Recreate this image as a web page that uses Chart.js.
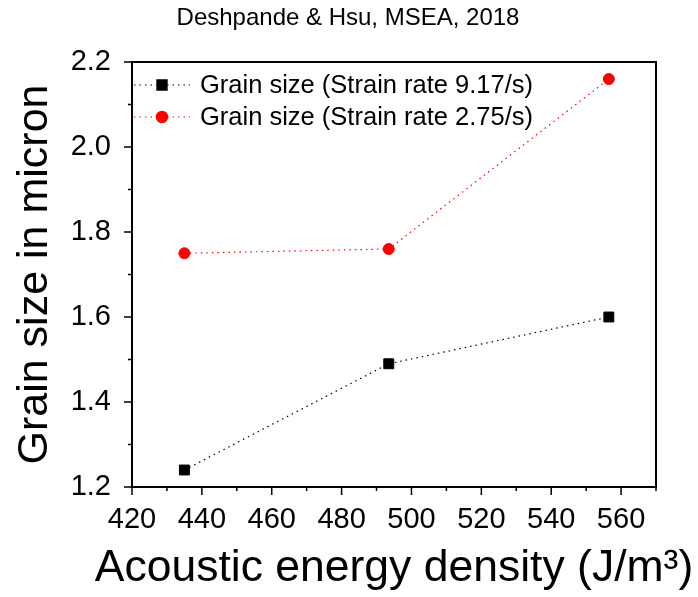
<!DOCTYPE html>
<html>
<head>
<meta charset="utf-8">
<script src="https://cdn.jsdelivr.net/npm/chart.js@4/dist/chart.umd.min.js"></script>
<style>
  html, body { margin: 0; padding: 0; background: #fff; }
  #wrap { width: 698px; height: 597px; }
</style>
</head>
<body>
<div id="wrap"><canvas id="c" width="698" height="597"></canvas></div>
<script>
// Acoustic energy density (J/m^3) for each processing condition
const energyDensity = [435, 493.5, 556.5];
// Grain size (micron) at the two strain rates
const grainRate917 = [1.24, 1.49, 1.60];
const grainRate275 = [1.75, 1.76, 2.16];
const seriesLabels = ['Grain size (Strain rate 9.17/s)', 'Grain size (Strain rate 2.75/s)'];
const chartTitle = 'Deshpande & Hsu, MSEA, 2018';
const xTitle = 'Acoustic energy density (J/m\u00B3)';
const yTitle = 'Grain size in micron';

const FONT = "'Liberation Sans', Arial, sans-serif";

function toPoints(xs, ys) {
  return xs.map((x, i) => ({ x: x, y: ys[i] }));
}

// Frame, minor/major ticks, legend, x-axis title and heading drawn over the plot
const decorations = {
  id: 'decorations',
  afterDraw(chart) {
    const ctx = chart.ctx;
    const a = chart.chartArea;
    const xs = chart.scales.x, ys = chart.scales.y;
    ctx.save();
    // top and right frame lines
    ctx.strokeStyle = '#000';
    ctx.lineWidth = 2;
    ctx.beginPath();
    ctx.moveTo(a.left, a.top);
    ctx.lineTo(a.right, a.top);
    ctx.lineTo(a.right, a.bottom);
    ctx.stroke();

    // outward ticks
    ctx.lineWidth = 1.5;
    ctx.beginPath();
    xs.ticks.forEach(t => {
      const px = xs.getPixelForValue(t.value);
      const major = Math.round(t.value) % 20 === 0;
      ctx.moveTo(px, a.bottom);
      ctx.lineTo(px, a.bottom + (major ? 8 : 4));
    });
    ys.ticks.forEach(t => {
      const py = ys.getPixelForValue(t.value);
      const major = Math.round(t.value * 10) % 2 === 0;
      ctx.moveTo(a.left, py);
      ctx.lineTo(a.left - (major ? 8 : 4), py);
    });
    ctx.stroke();

    // legend inside the plot, top-left
    chart.data.datasets.forEach((ds, i) => {
      const y = 85 + 32 * i;
      ctx.save();
      ctx.strokeStyle = ds.borderColor;
      ctx.lineWidth = ds.borderWidth;
      ctx.setLineDash(ds.borderDash);
      ctx.beginPath();
      ctx.moveTo(a.left + 2, y);
      ctx.lineTo(a.left + 58, y);
      ctx.stroke();
      ctx.restore();
      ctx.fillStyle = ds.pointBackgroundColor;
      ctx.strokeStyle = ds.pointBorderColor;
      Chart.helpers.drawPoint(ctx, {
        pointStyle: ds.pointStyle, radius: ds.pointRadius, rotation: 0, borderWidth: 1
      }, a.left + 30, y);
      ctx.fillStyle = '#000';
      ctx.font = '25.5px ' + FONT;
      ctx.textAlign = 'left';
      ctx.textBaseline = 'middle';
      ctx.fillText(ds.label, a.left + 68, y + 1);
    });

    // x-axis title, centred under the plot
    ctx.fillStyle = '#000';
    ctx.font = '44.5px ' + FONT;
    ctx.textAlign = 'center';
    ctx.textBaseline = 'middle';
    ctx.fillText(xTitle, (a.left + a.right) / 2, 569);

    // heading
    ctx.font = '24px ' + FONT;
    ctx.fillText(chartTitle, 348, 18);
    ctx.restore();
  }
};

new Chart(document.getElementById('c'), {
  type: 'line',
  data: {
    datasets: [
      {
        label: seriesLabels[0],
        data: toPoints(energyDensity, grainRate917),
        borderColor: '#000',
        borderWidth: 1.2,
        borderDash: [1.5, 4],
        pointStyle: 'rect',
        pointRadius: 7,
        pointHoverRadius: 7,
        pointBackgroundColor: '#000',
        pointBorderColor: '#000',
        pointBorderWidth: 1
      },
      {
        label: seriesLabels[1],
        data: toPoints(energyDensity, grainRate275),
        borderColor: '#ff0000',
        borderWidth: 1.2,
        borderDash: [1.5, 4],
        pointStyle: 'circle',
        pointRadius: 5.5,
        pointHoverRadius: 5.5,
        pointBackgroundColor: '#ff0000',
        pointBorderColor: '#ff0000',
        pointBorderWidth: 1
      }
    ]
  },
  options: {
    responsive: false,
    animation: false,
    events: [],
    layout: { padding: { top: 62, right: 42, left: 0, bottom: 0 } },
    plugins: {
      legend: { display: false },
      title: { display: false },
      tooltip: { enabled: false }
    },
    scales: {
      x: {
        type: 'linear',
        min: 420,
        max: 570,
        grid: { display: false },
        border: { display: true, color: '#000', width: 2 },
        ticks: {
          stepSize: 10,
          autoSkip: false,
          maxRotation: 0,
          padding: 8,
          color: '#000',
          font: { family: FONT, size: 29 },
          callback: v => (Math.round(v) % 20 === 0 && v <= 560) ? String(v) : ''
        },
        title: { display: false },
        afterFit: s => { s.height = 110; }
      },
      y: {
        type: 'linear',
        min: 1.2,
        max: 2.2,
        grid: { display: false },
        border: { display: true, color: '#000', width: 2 },
        ticks: {
          stepSize: 0.1,
          autoSkip: false,
          padding: 13,
          color: '#000',
          font: { family: FONT, size: 29 },
          callback: v => (Math.round(v * 10) % 2 === 0) ? v.toFixed(1) : ''
        },
        title: {
          display: true,
          text: yTitle,
          color: '#000',
          font: { family: FONT, size: 43 },
          padding: { top: 9, bottom: 0 }
        },
        afterFit: s => { s.width = 132; }
      }
    }
  },
  plugins: [decorations]
});
</script>
</body>
</html>
